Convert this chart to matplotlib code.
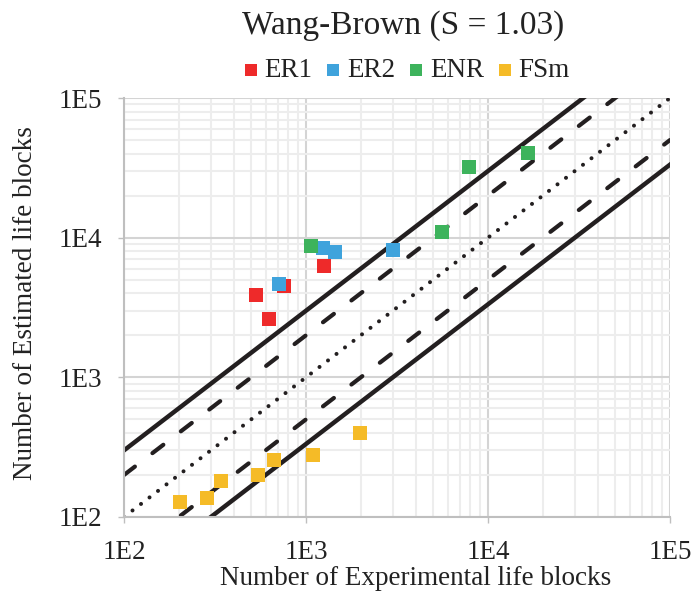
import matplotlib
matplotlib.use("Agg")
import matplotlib.pyplot as plt
import numpy as np
from matplotlib.ticker import LogLocator, NullFormatter

plt.rcParams['font.family'] = ['Liberation Serif', 'DejaVu Serif']

# Data (experimental, estimated)
er1_x = [533, 760, 628, 1262]
er1_y = [3860, 4480, 2600, 6240]
er2_x = [713, 1245, 1449, 3020]
er2_y = [4630, 8370, 7850, 8110]
enr_x = [1062, 5610, 7890, 16600]
enr_y = [8670, 10900, 31800, 40100]
fsm_x = [204, 287, 343, 547, 670, 1097, 1986]
fsm_y = [129, 136, 180, 199, 255, 277, 397]

series = [("ER1", er1_x, er1_y, "#ee2a2a"),
          ("ER2", er2_x, er2_y, "#3fa3dc"),
          ("ENR", enr_x, enr_y, "#3db35c"),
          ("FSm", fsm_x, fsm_y, "#f5bb27")]

factors = [3, 2, 1, 0.5, 1 / 3]
tick_vals = [1e2, 1e3, 1e4, 1e5]
tick_labels = ["1E2", "1E3", "1E4", "1E5"]

fig = plt.figure(figsize=(6.95, 5.95), dpi=100)
ax = fig.add_axes([124 / 695, 1 - 517 / 595, (670 - 124) / 695, (517 - 98) / 595])
ax.set_xscale('log')
ax.set_yscale('log')
ax.set_xlim(1e2, 1e5)
ax.set_ylim(1e2, 1e5)

# grid
ax.xaxis.set_minor_locator(LogLocator(base=10, subs=np.arange(2, 10)))
ax.yaxis.set_minor_locator(LogLocator(base=10, subs=np.arange(2, 10)))
ax.xaxis.set_minor_formatter(NullFormatter())
ax.yaxis.set_minor_formatter(NullFormatter())
ax.grid(which='major', color='#d4d4d4', lw=1.5, zorder=0)
ax.grid(which='minor', color='#ededed', lw=1.5, zorder=0)
ax.set_axisbelow(True)

# reference lines
xx = np.logspace(2, 5, 200)
for f in factors:
    if f == 1:
        ax.plot(xx, xx * f, color='#231f20', lw=2.9, ls=(0, (0.01, 2.65)),
                dash_capstyle='round', zorder=2)
    elif f in (2, 0.5):
        ax.plot(xx, xx * f, color='#231f20', lw=3.0, ls=(0, (3.3, 5.3)),
                dash_capstyle='round', zorder=2)
    else:
        ax.plot(xx, xx * f, color='#231f20', lw=3.2, ls='-', zorder=2)

for name, x, y, c in series:
    ax.scatter(x, y, marker='s', s=90, color=c, label=name, zorder=3, linewidths=0)

ax.set_xticks(tick_vals)
ax.set_xticklabels(tick_labels)
ax.set_yticks(tick_vals)
ax.set_yticklabels(tick_labels)
ax.tick_params(which='major', length=4.5, width=1, color='#bfbfbf', labelsize=19.5, labelcolor='#222222')
ax.tick_params(axis='x', pad=12)
ax.tick_params(axis='y', pad=11)
ax.tick_params(which='minor', length=0)

for s in ['top', 'right']:
    ax.spines[s].set_visible(False)
for s in ['left', 'bottom']:
    ax.spines[s].set_color('#bfbfbf')
    ax.spines[s].set_linewidth(1.5)

ax.set_xlabel("Number of Experimental life blocks", fontsize=19.5, color='#222222', va='center')
ax.xaxis.set_label_coords(0.535, -0.1456)
ax.set_ylabel("Number of Estimated life blocks", fontsize=19.5, color='#222222', va='center')
ax.yaxis.set_label_coords(-0.181, 0.511)
fig.text(0.58, 0.957, "Wang-Brown (S = 1.03)", ha='center', va='center', fontsize=24, color='#222222')
leg = fig.legend(loc='center', bbox_to_anchor=(0.5856, 0.882), ncol=4, frameon=False, fontsize=19.5,
                 handletextpad=0.26, columnspacing=0.52, markerscale=0.95, handlelength=0.5)
for t in leg.get_texts():
    t.set_color('#222222')

fig.savefig("out.png", dpi=100)
